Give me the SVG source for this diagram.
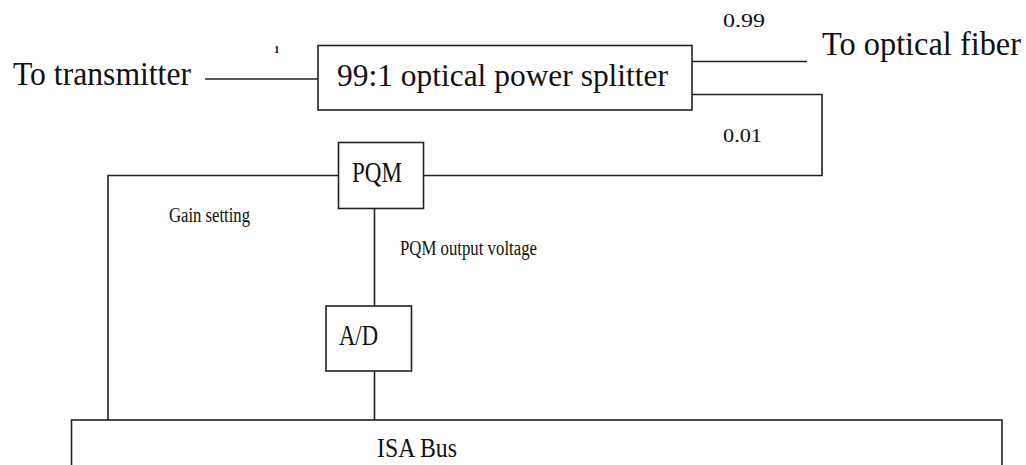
<svg xmlns="http://www.w3.org/2000/svg" width="1026" height="465" viewBox="0 0 1026 465">
<style>
.box{fill:#fff;stroke:#222;stroke-width:1.6}
.ln{fill:none;stroke:#222;stroke-width:1.6}
text{font-family:"Liberation Serif","Times New Roman",serif;fill:#111}
</style>
<rect width="1026" height="465" fill="#fff"/>
<g id="connectors">
<line class="ln" x1="205" y1="79" x2="318" y2="79" stroke-width="2.4"/>
<line class="ln" x1="692" y1="61.5" x2="807" y2="61.5"/>
<polyline class="ln" points="692,94.5 822,94.5 822,175.5 423,175.5"/>
<polyline class="ln" points="338,175.5 108,175.5 108,420"/>
<line class="ln" x1="374.5" y1="208" x2="374.5" y2="306"/>
<line class="ln" x1="374.5" y1="371" x2="374.5" y2="420"/>
</g>
<g id="labels">
<text transform="translate(13,85) scale(1,1.1)" x="0" y="0" font-size="31" textLength="178" lengthAdjust="spacingAndGlyphs">To transmitter</text>
<text x="274" y="53" font-size="11" font-weight="bold">1</text>
<text x="723" y="27" font-size="19" textLength="42" lengthAdjust="spacingAndGlyphs">0.99</text>
<text transform="translate(822,55) scale(1,1.1)" x="0" y="0" font-size="31" textLength="199" lengthAdjust="spacingAndGlyphs">To optical fiber</text>
<text x="723" y="142" font-size="19" textLength="39" lengthAdjust="spacingAndGlyphs">0.01</text>
<text x="169" y="222" font-size="20" textLength="81" lengthAdjust="spacingAndGlyphs">Gain setting</text>
<text x="400" y="255" font-size="20" textLength="137" lengthAdjust="spacingAndGlyphs">PQM output voltage</text>
</g>
<g id="splitter">
<rect class="box" x="318" y="45.5" width="374" height="64.5"/>
<text x="337" y="86" font-size="32" textLength="331" lengthAdjust="spacingAndGlyphs">99:1 optical power splitter</text>
</g>
<g id="pqm">
<rect class="box" x="338.5" y="142.5" width="85" height="66"/>
<text x="352" y="182" font-size="30" textLength="50" lengthAdjust="spacingAndGlyphs">PQM</text>
</g>
<g id="ad">
<rect class="box" x="326" y="306" width="85.5" height="65"/>
<text x="339" y="345" font-size="30" textLength="39" lengthAdjust="spacingAndGlyphs">A/D</text>
</g>
<g id="isa">
<rect class="box" x="71.5" y="420" width="930.5" height="60"/>
<text x="377" y="457" font-size="28" textLength="80" lengthAdjust="spacingAndGlyphs">ISA Bus</text>
</g>
</svg>
